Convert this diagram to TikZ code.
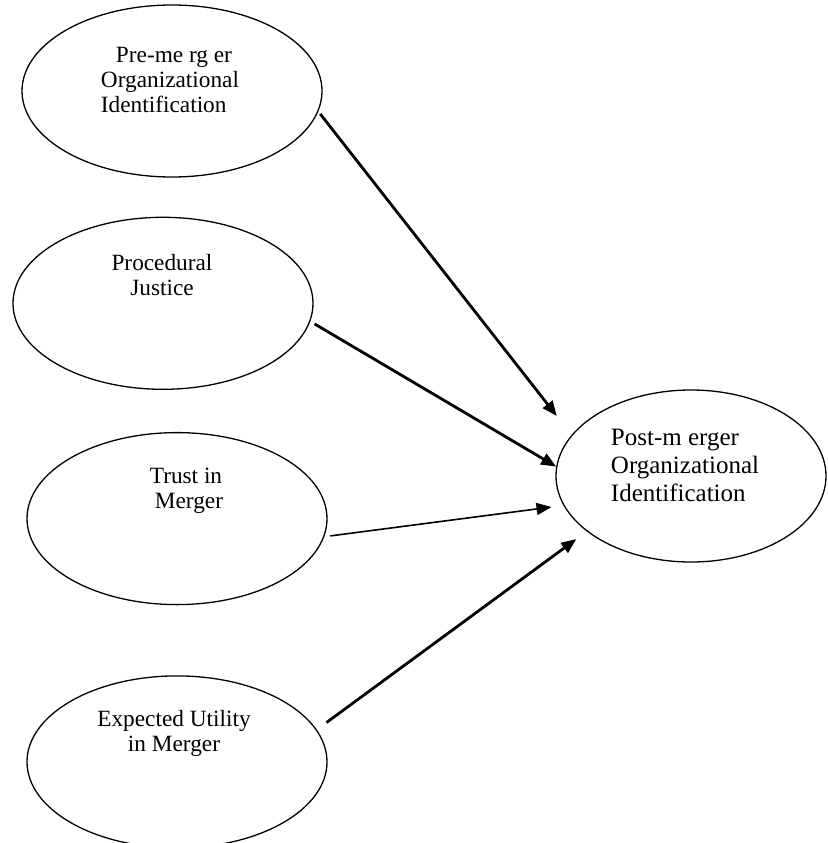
\documentclass[tikz,border=0pt]{standalone}
\usepackage{fontspec}
\setmainfont{Liberation Serif}
\usetikzlibrary{positioning,shapes.geometric,arrows.meta}

\begin{document}
\begin{tikzpicture}[
    x=1pt, y=-1pt,
    % Styles
    construct/.style={
        draw=black,
        line width=1.3pt,
        ellipse,
        minimum width=300pt,
        minimum height=172pt,
        inner sep=0pt
    },
    outcome/.style={
        construct,
        minimum width=270pt
    },
    ctext/.style={
        font=\fontsize{23.3}{25}\selectfont,
        align=center,
        inner sep=0pt
    },
    otext/.style={
        font=\fontsize{25}{28}\selectfont,
        align=left,
        inner sep=0pt
    },
    arrow/.style={-{Triangle[length=15pt,width=12pt]}, line width=2.8pt},
    thinarrow/.style={arrow, line width=1.6pt}
]
    \useasboundingbox (0,0) rectangle (827,843);

    % ---------------------------------------------------------
    % LEFT: PREDICTORS (stacked)
    % ---------------------------------------------------------
    \node[construct] (preid) at (172,91) {};
    \node[construct, below=39pt of preid, xshift=-9pt] (proc) {};
    \node[construct, below=42pt of proc, xshift=14pt] (trust) {};
    \node[construct, below=70pt of trust] (util) {};

    \node[ctext, align=left] (preidtxt) at ([xshift=-2pt,yshift=11pt]preid.center)
        {\hspace*{15pt}Pre-me rg er\\Organizational\\Identification};
    \node[ctext] (proctxt) at ([xshift=-1pt,yshift=28pt]proc.center)
        {Procedural\\Justice};
    \node[ctext] (trusttxt) at ([xshift=9pt,yshift=28pt]trust.center)
        {Trust in\\\hspace*{6pt}Merger};
    \node[ctext] (utiltxt) at ([xshift=-3pt,yshift=28pt]util.center)
        {Expected Utility\\in Merger};

    % ---------------------------------------------------------
    % RIGHT: OUTCOME
    % ---------------------------------------------------------
    \node[outcome] (postid) at (691,476) {};
    \node[otext] (postidtxt) at ([xshift=-6pt,yshift=11pt]postid.center)
        {Post-m erger\\Organizational\\Identification};

    % ---------------------------------------------------------
    % CONNECTIONS
    % ---------------------------------------------------------
    \draw[arrow, shorten <=3pt, shorten >=24pt] (preid.-8) -- (postid.161);
    \draw[arrow, shorten <=5pt] (proc.-7) -- (postid.176);
    \draw[thinarrow, shorten <=6pt, shorten >=12pt] (trust.-7) -- (postid.193);
    \draw[arrow, shorten <=12pt, shorten >=13pt] (util.13) -- (postid.208);

\end{tikzpicture}
\end{document}
